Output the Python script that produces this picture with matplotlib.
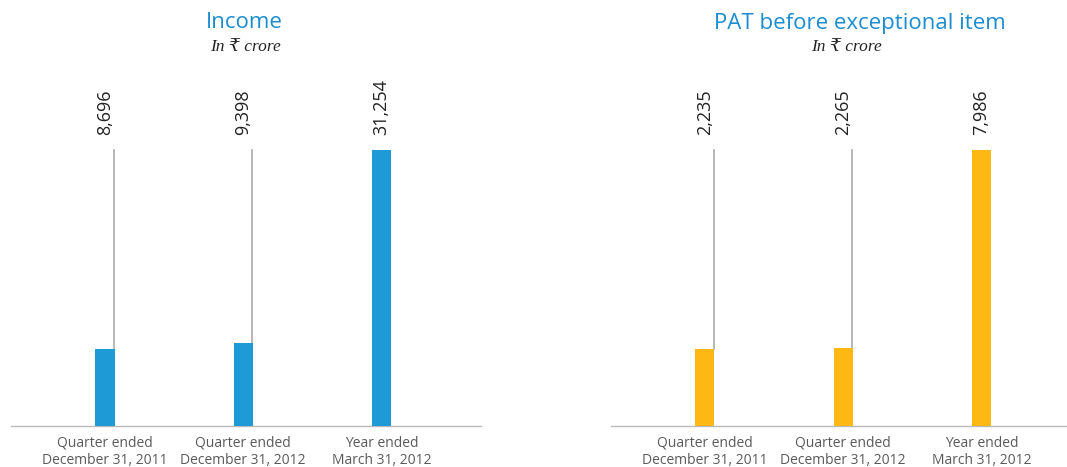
import matplotlib
matplotlib.use("Agg")
import matplotlib.pyplot as plt

# chart data
categories = ["Quarter ended\nDecember 31, 2011",
              "Quarter ended\nDecember 31, 2012",
              "Year ended\nMarch 31, 2012"]
income = [8696, 9398, 31254]
pat = [2235, 2265, 7986]

titles = ["Income", "PAT before exceptional item"]
subtitle = "In \u20b9 crore"

blue = "#1e9ad6"
yellow = "#fdb813"
title_col = "#1a8dd0"

sans = ["Open Sans", "DejaVu Sans"]
serif = ["Liberation Serif", "DejaVu Serif"]

fig = plt.figure(figsize=(10.67, 4.67), dpi=100)

W, H = 1067, 467
panels = [
    (income, blue, [11 / W, 41 / H, 470 / W, 366 / H], (-0.68, 2.72), 244, 245),
    (pat, yellow, [611 / W, 41 / H, 456 / W, 366 / H], (-0.68, 2.62), 860, 846),
]

bar_w = 0.138
for (vals, col, rect, xl, tx, sx), title in zip(panels, titles):
    ax = fig.add_axes(rect)
    x = list(range(len(vals)))
    top = max(vals)
    ax.bar(x, vals, width=bar_w, color=col, zorder=3)
    # thin grey leader lines from each bar up to the tallest one
    for xi, v in zip(x, vals):
        if v < top:
            ax.plot([xi + bar_w / 2 - 0.005] * 2, [v, top], color="#aaaaaa", lw=1.2, zorder=2)
        ax.annotate(f"{v:,}", (xi, top), xytext=(0, 11), textcoords="offset points",
                    rotation=90, ha="center", va="bottom", fontsize=13,
                    family=sans, color="#222222")
    ax.set_xlim(*xl)
    ax.set_ylim(0, top * 366 / 276)
    ax.set_xticks(x)
    ax.set_xticklabels(categories, family=sans, fontsize=10, color="#5a5a5a",
                       linespacing=1.25)
    ax.tick_params(axis="x", length=0, pad=7)
    ax.set_yticks([])
    for s in ["top", "left", "right"]:
        ax.spines[s].set_visible(False)
    ax.spines["bottom"].set_color("#bbbbbb")
    ax.spines["bottom"].set_linewidth(1.0)
    ax.patch.set_alpha(0)

    fig.text(tx / W, 1 - 23 / H, title, ha="center", va="center",
             fontsize=16, color=title_col, family=sans)
    fig.text(sx / W, 1 - 47 / H, subtitle, ha="center", va="center",
             fontsize=12.5, style="italic", color="#222222", family=serif)

fig.savefig("out.png", dpi=100)
